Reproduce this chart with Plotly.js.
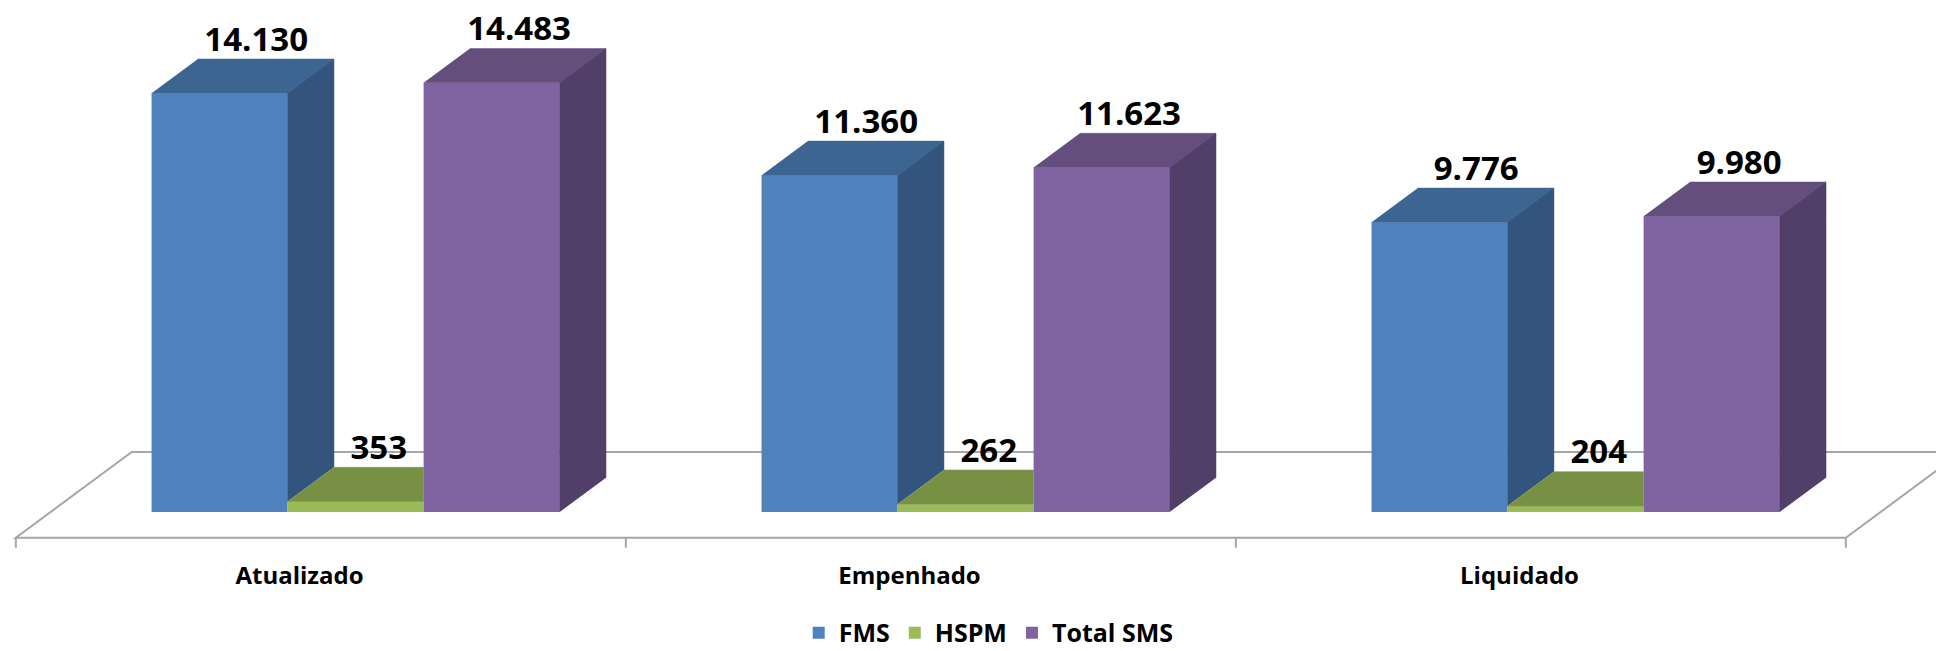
<!DOCTYPE html>
<html lang="pt">
<head>
  <meta charset="UTF-8">
  <title>FMS / HSPM / Total SMS</title>
  <script src="https://cdn.plot.ly/plotly-3.0.1.min.js"></script>
  <style>
    body {
      margin: 0;
      background: white;
    }
    #chart {
      width: 1936px;
      height: 651px;
    }
  </style>
</head>
<body>
  <div id="chart"></div>

  <script>
    // Data
    const categories = ['Atualizado', 'Empenhado', 'Liquidado'];
    const seriesNames = ['FMS', 'HSPM', 'Total SMS'];
    const fms = [14130, 11360, 9776];
    const hspm = [353, 262, 204];
    const totalSms = [14483, 11623, 9980];

    const frontColors = ['#4F81BD', '#9BBB59', '#8064A2'];
    const topColors = ['#3D6592', '#779044', '#634E7E'];
    const sideColors = ['#33547D', '#5F7437', '#523F69'];

    // 3d look: depth is drawn as an oblique offset in data units
    const BARGAP = 0.331;
    const FLOOR_DX = 0.190;
    const FLOOR_DY = 2892;
    const BAR_FRONT = 0.30;
    const BAR_BACK = 0.70;
    const TICK_LEN = 337;
    const LABEL_SHIFT = 0.092;
    const VALUE_LABEL_DX = [0.022, 0, 0.007];

    const series = [fms, hspm, totalSms];
    const nS = series.length;
    const barW = (1 - BARGAP) / nS;
    const bdx = (BAR_BACK - BAR_FRONT) * FLOOR_DX;
    const bdy = (BAR_BACK - BAR_FRONT) * FLOOR_DY;

    const font = { family: 'Open Sans, sans-serif', size: 24, color: '#000', weight: 'bold' };

    function fmt(v) {
      return String(v).replace(/\B(?=(\d{3})+(?!\d))/g, '.');
    }

    const idx = categories.map((c, i) => i);
    const data = [];

    // front faces: real bars
    series.forEach((vals, s) => {
      data.push({
        type: 'bar',
        name: seriesNames[s],
        x: idx,
        y: vals,
        marker: { color: frontColors[s], line: { width: 0 } },
        hoverinfo: 'skip'
      });
    });

    // top and side faces
    series.forEach((vals, s) => {
      const topX = [], topY = [], sideX = [], sideY = [];
      vals.forEach((h, i) => {
        const xl = i - (1 - BARGAP) / 2 + s * barW;
        const xr = xl + barW;
        const hNext = s < nS - 1 ? series[s + 1][i] : null;
        if (hNext !== null && hNext > h) {
          // next bar hides the right part of the top
          topX.push(xl, xr, xr, xl + bdx, null);
          topY.push(h, h, h + bdy, h + bdy, null);
        } else {
          topX.push(xl, xr, xr + bdx, xl + bdx, null);
          topY.push(h, h, h + bdy, h + bdy, null);
        }
        const base = hNext === null ? 0 : hNext;
        if (base < h) {
          sideX.push(xr, xr, xr + bdx, xr + bdx, null);
          sideY.push(base, h, h + bdy, base + bdy, null);
        }
      });
      data.push({
        type: 'scatter', mode: 'lines', x: topX, y: topY, fill: 'toself',
        fillcolor: topColors[s], line: { color: topColors[s], width: 0.5 },
        showlegend: false, hoverinfo: 'skip'
      });
      if (sideX.length) {
        data.push({
          type: 'scatter', mode: 'lines', x: sideX, y: sideY, fill: 'toself',
          fillcolor: sideColors[s], line: { color: sideColors[s], width: 0.5 },
          showlegend: false, hoverinfo: 'skip'
        });
      }
    });

    // value labels
    series.forEach((vals, s) => {
      data.push({
        type: 'scatter',
        mode: 'text',
        x: idx.map(i => i - (1 - BARGAP) / 2 + (s + 0.5) * barW + bdx / 2 + VALUE_LABEL_DX[s]),
        y: vals.map(v => v + bdy),
        text: vals.map(fmt),
        textposition: 'top center',
        textfont: { family: 'Open Sans, sans-serif', size: 33, color: '#000', weight: 'bold' },
        showlegend: false,
        hoverinfo: 'skip'
      });
    });

    // floor outline with tick marks on its front edge
    const fx = -BAR_FRONT * FLOOR_DX;
    const fy = -BAR_FRONT * FLOOR_DY;
    const left = -0.5 + fx;
    const right = categories.length - 0.5 + fx;
    let floorPath = `M${left},${fy} L${right},${fy} L${right + FLOOR_DX},${fy + FLOOR_DY} ` +
      `L${left + FLOOR_DX},${fy + FLOOR_DY} Z`;
    for (let i = 0; i <= categories.length; i++) {
      const tx = i - 0.5 + fx;
      floorPath += ` M${tx},${fy} L${tx},${fy - TICK_LEN}`;
    }

    const layout = {
      width: 1936,
      height: 651,
      margin: { l: 0, r: 0, t: 0, b: 103, pad: 0, autoexpand: false },
      paper_bgcolor: 'white',
      plot_bgcolor: 'white',
      barmode: 'group',
      bargap: BARGAP,
      bargroupgap: 0,
      font: font,
      xaxis: {
        range: [-0.58295, 2.5908],
        tickvals: idx.map(i => i - LABEL_SHIFT),
        ticktext: categories,
        ticks: '',
        ticklabelstandoff: 11,
        showgrid: false,
        zeroline: false,
        showline: false,
        fixedrange: true,
        tickfont: font
      },
      yaxis: {
        range: [-1215, 17279],
        visible: false,
        fixedrange: true
      },
      shapes: [{
        type: 'path',
        xref: 'x',
        yref: 'y',
        path: floorPath,
        layer: 'below',
        line: { color: '#A6A6A6', width: 2 }
      }],
      showlegend: true,
      legend: {
        orientation: 'h',
        x: 0.5107,
        xanchor: 'center',
        y: -0.155,
        yanchor: 'middle',
        font: { family: 'Open Sans, sans-serif', size: 25, color: '#000', weight: 'bold' },
        traceorder: 'normal'
      }
    };

    Plotly.newPlot('chart', data, layout, { displayModeBar: false, staticPlot: true });
  </script>
</body>
</html>
